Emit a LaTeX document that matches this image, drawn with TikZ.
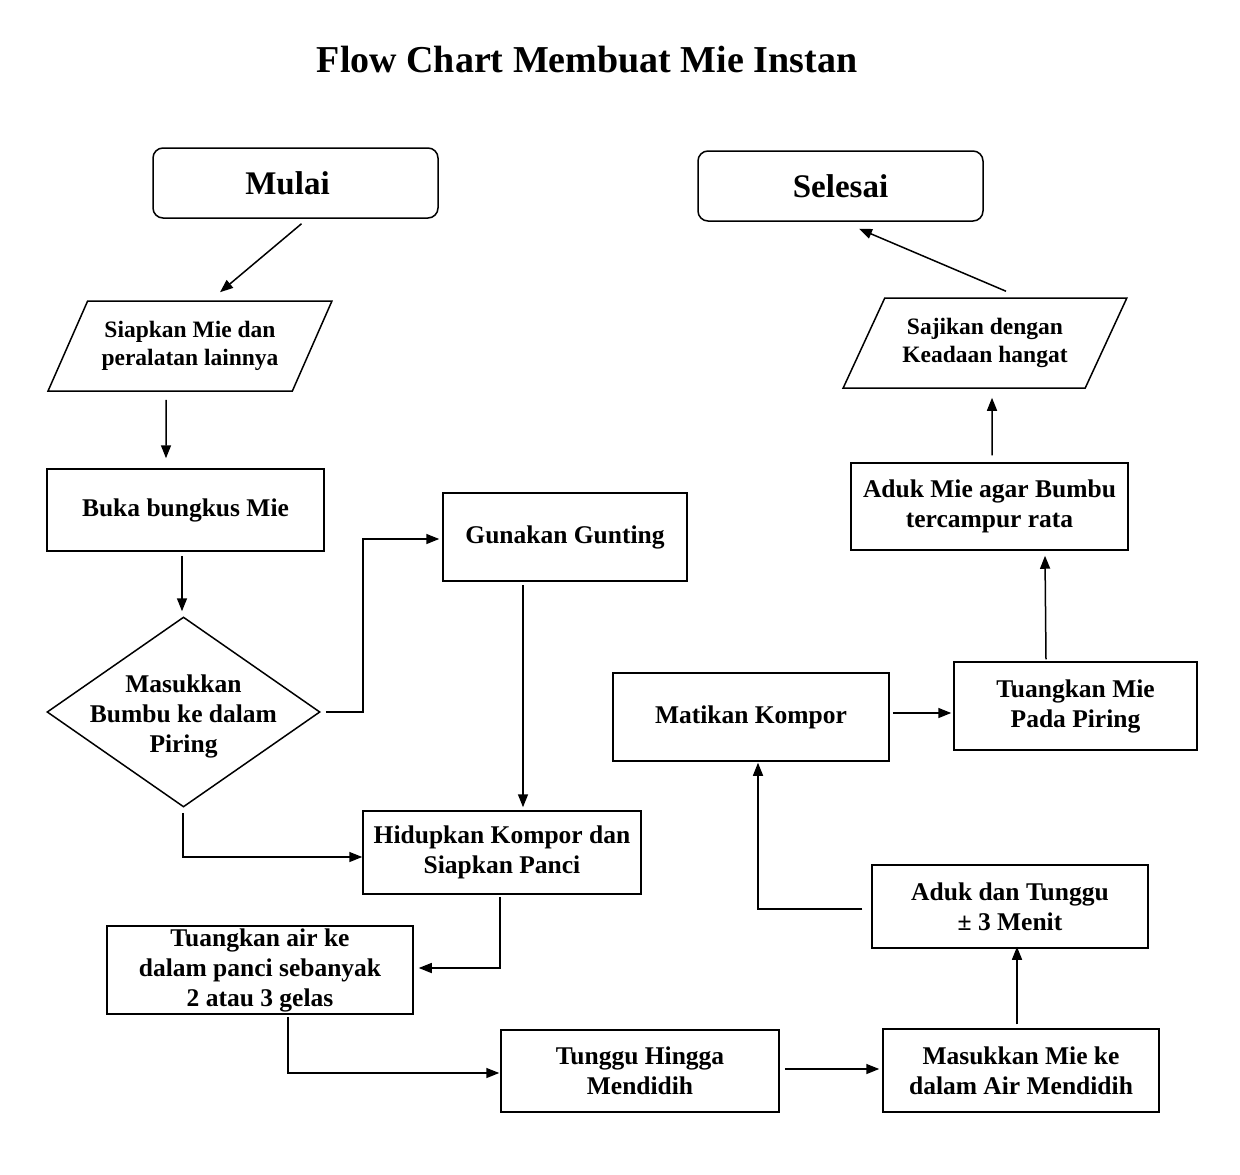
\documentclass[tikz,border=0pt]{standalone}
\usepackage{fontspec}
\setmainfont{Liberation Serif}
\usetikzlibrary{shapes.geometric,arrows.meta,calc}
\begin{document}
\begin{tikzpicture}[x=1pt,y=-1pt,
  base/.style={draw, line width=1.5pt, inner sep=0pt, align=center},
  box/.style={base, font=\bfseries\fontsize{25.5}{30}\selectfont},
  term/.style={base, rounded corners=10pt, minimum width=285pt, minimum height=70pt, font=\bfseries\fontsize{33}{36}\selectfont},
  io/.style={base, trapezium, trapezium left angle=55, trapezium right angle=125, trapezium stretches=true,
     minimum width=284pt, minimum height=90pt, font=\bfseries\fontsize{23.5}{27.5}\selectfont},
  dec/.style={base, diamond, aspect=1.437, minimum width=273pt, minimum height=190pt},
  dectext/.style={align=center, inner sep=0pt, font=\bfseries\fontsize{25.5}{30}\selectfont},
  conn/.style={line width=1.5pt, -{Triangle[length=13pt,width=10pt]}}
]
\useasboundingbox (0,0) rectangle (1240,1175);

\node[font=\bfseries\fontsize{38}{42}\selectfont] (title) at (587,60) {Flow Chart Membuat Mie Instan};

\node[term] (mulai) at (295.5,183) {Mulai\hspace*{16pt}};
\node[term] (selesai) at (840.5,186) {Selesai};
\node[io] (siap) at (190,346) {Siapkan Mie dan\\peralatan lainnya};
\node[box, minimum width=277pt, minimum height=82pt] (buka) at (185.5,510) {Buka bungkus Mie};
\node[dec] (dia) at (183.5,712) {};
\node[dectext] (diat) at ($(dia.center)+(0,4)$) {Masukkan\\Bumbu ke dalam\\Piring};
\node[box, minimum width=244pt, minimum height=88pt] (gun) at (565,537) {Gunakan Gunting};
\node[box, minimum width=278pt, minimum height=83pt] (hid) at (502,852.5) {Hidupkan Kompor dan\\Siapkan Panci};
\node[box, minimum width=306pt, minimum height=88pt] (tua) at (260,970) {Tuangkan air ke\\dalam panci sebanyak\\2 atau 3 gelas};
\node[box, minimum width=278pt, minimum height=82pt] (tun) at (640,1071) {Tunggu Hingga\\Mendidih};
\node[box, minimum width=276pt, minimum height=83pt] (mas) at (1021,1070.5) {Masukkan Mie ke\\dalam Air Mendidih};
\node[box, minimum width=276pt, minimum height=83pt] (adt) at (1010,906.5) {Aduk dan Tunggu\\± 3 Menit};
\node[box, minimum width=276pt, minimum height=88pt] (mat) at (751,717) {Matikan Kompor};
\node[box, minimum width=243pt, minimum height=88pt] (tpm) at (1075.5,706) {Tuangkan Mie\\Pada Piring};
\node[box, minimum width=277pt, minimum height=87pt] (adm) at (989.5,506.5) {Aduk Mie agar Bumbu\\tercampur rata};
\node[io] (saj) at (985,343) {Sajikan dengan\\Keadaan hangat};

\draw[conn] ($(mulai.south)+(6,5)$) -- ($(siap.north)+(30,-8)$);
\draw[conn] ($(siap.south)+(-24,8)$) -- ($(buka.north)+(-19.5,-10)$);
\draw[conn] ($(buka.south)+(-3.5,4)$) -- ($(dia.north)+(-1.5,-5)$);
\draw[conn] ($(dia.east)+(5,0)$) -- ++(37,0) |- ($(gun.west)+(-3,2)$);
\draw[conn] ($(gun.south)+(-42,3)$) -- ($(hid.north)+(21,-3)$);
\draw[conn] ($(dia.south)+(-0.5,5)$) |- ($(hid.west)+(0,4.5)$);
\draw[conn] ($(hid.south)+(-2,2)$) |- ($(tua.east)+(5,-2)$);
\draw[conn] ($(tua.south)+(28,2)$) |- ($(tun.west)+(-1,2)$);
\draw[conn] ($(tun.east)+(5,-2)$) -- ($(mas.west)+(-3,-1.5)$);
\draw[conn] ($(mas.north)+(-4,-4)$) -- ($(adt.south)+(7,-2)$);
\draw[conn] ($(adt.west)+(-9,2.5)$) -| ($(mat.south)+(7,1)$);
\draw[conn] ($(mat.east)+(3,-4)$) -- ($(tpm.west)+(-2,7)$);
\draw[conn] ($(tpm.north)+(-29.5,-2)$) -- ($(adm.south)+(55.5,5)$);
\draw[conn] ($(adm.north)+(2.5,-7)$) -- ($(saj.south)+(7,9)$);
\draw[conn] ($(saj.north)+(21,-6)$) -- ($(selesai.south)+(18.5,7)$);
\end{tikzpicture}
\end{document}
